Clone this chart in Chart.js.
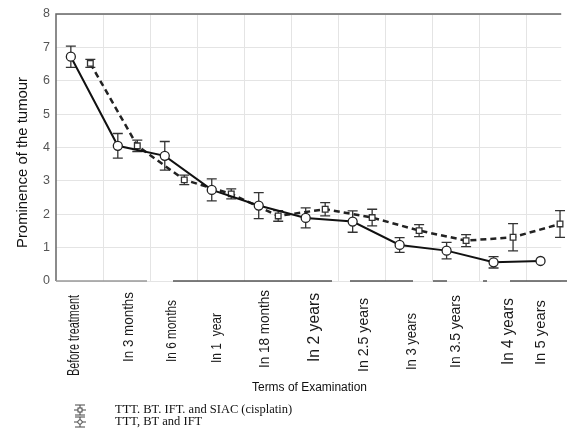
<!DOCTYPE html>
<html>
<head>
<meta charset="utf-8">
<script src="https://cdn.jsdelivr.net/npm/chart.js@4"></script>
<style>
  html, body { margin: 0; padding: 0; background: #fff; }
  #wrap { width: 567px; height: 429px; position: relative; }
</style>
</head>
<body>
<div id="wrap"><canvas id="tumourChart"></canvas></div>
<script>
// Terminos de examen (eje X)
const terms = ['Before treatment', 'In 3 months', 'In 6 months', 'In 1  year', 'In 18 months',
  'In 2 years', 'In 2.5 years', 'In 3 years', 'In 3.5 years', 'In 4 years', 'In 5 years'];

// TTT, BT, IFT and SIAC (cisplatin) - linea punteada, cuadrados
const siacMean = [6.52, 4.05, 3.03, 2.61, 1.95, 2.15, 1.9, 1.51, 1.21, 1.31, 1.71];
const siacErr  = [0.12, 0.17, 0.14, 0.15, 0.16, 0.2, 0.25, 0.18, 0.18, 0.41, 0.4];

// TTT, BT and IFT - linea continua, circulos
const baseMean = [6.72, 4.05, 3.75, 2.73, 2.26, 1.89, 1.78, 1.08, 0.91, 0.56, 0.6];
const baseErr  = [0.32, 0.37, 0.43, 0.33, 0.39, 0.3, 0.32, 0.22, 0.25, 0.17, 0];

const yTicks = [0, 1, 2, 3, 4, 5, 6, 7, 8];
const yTitle = 'Prominence of the tumour';
const xTitle = 'Terms of Examination';
const legendNames = ['TTT. BT. IFT. and SIAC (cisplatin)', 'TTT, BT and IFT'];

// solo estilo: corrimiento del cuadrado y como se ve cada etiqueta
const siacShift = 0.415;
const labelPos  = [0.08, 1.24, 2.15, 3.12, 4.13, 5.18, 6.25, 7.26, 8.21, 9.31, 10.0];
const labelBase = [376, 362, 362, 363, 368, 362, 372, 370, 368, 365, 365];
const labelLen  = [81, 70, 62, 50, 78, 69, 74, 57, 73, 67, 65];
const labelSize = [16, 15, 14.5, 14.5, 14.5, 16.5, 14.5, 14.5, 14.5, 16, 15.5];

const baseData = baseMean.map((v, i) => ({x: i, y: v, e: baseErr[i]}));
const siacData = siacMean.map((v, i) => ({x: i + siacShift, y: v, e: siacErr[i]}));

const SANS = '"Liberation Sans", Arial, sans-serif';

// texto que ocupa un largo dado (las etiquetas del original son angostas)
function fitText(ctx, text, x, y, len, rot) {
    const w = ctx.measureText(text).width;
    ctx.save();
    ctx.translate(x, y);
    if (rot) ctx.rotate(-Math.PI / 2);
    ctx.scale(len / w, 1);
    ctx.fillText(text, 0, 0);
    ctx.restore();
}

// barras de error, se dibujan antes de las lineas
const errorBars = {
    id: 'errorBars',
    beforeDatasetsDraw(chart) {
        const ctx = chart.ctx;
        const ys = chart.scales.y;
        ctx.save();
        ctx.strokeStyle = '#333';
        ctx.lineWidth = 1.3;
        chart.data.datasets.forEach((ds, di) => {
            const meta = chart.getDatasetMeta(di);
            ds.data.forEach((p, i) => {
                if (!p.e) return;
                const x = meta.data[i].x;
                const top = ys.getPixelForValue(p.y + p.e);
                const bot = ys.getPixelForValue(p.y - p.e);
                ctx.beginPath();
                ctx.moveTo(x, top); ctx.lineTo(x, bot);
                ctx.moveTo(x - 5, top); ctx.lineTo(x + 5, top);
                ctx.moveTo(x - 5, bot); ctx.lineTo(x + 5, bot);
                ctx.stroke();
            });
        });
        ctx.restore();
    }
};

// bordes, etiquetas rotadas, titulos y leyenda
const extras = {
    id: 'extras',
    afterDraw(chart) {
        const ctx = chart.ctx;
        const a = chart.chartArea;
        const xs = chart.scales.x;
        ctx.save();
        ctx.strokeStyle = '#666';
        ctx.lineWidth = 1.5;
        ctx.beginPath();
        ctx.moveTo(a.left, a.bottom); ctx.lineTo(a.left, a.top); ctx.lineTo(a.right, a.top);
        ctx.stroke();
        // eje inferior cortado como en la imagen
        [[56, 83], [83, 147], [173, 332], [350, 413], [433, 447], [483, 487], [510, 567]].forEach((s, k) => {
            ctx.strokeStyle = k < 2 ? '#999' : '#555';
            ctx.beginPath();
            ctx.moveTo(s[0], a.bottom); ctx.lineTo(s[1], a.bottom);
            ctx.stroke();
        });

        ctx.fillStyle = '#1a1a1a';
        ctx.textAlign = 'left';
        ctx.textBaseline = 'middle';
        terms.forEach((t, i) => {
            ctx.font = labelSize[i] + 'px ' + SANS;
            fitText(ctx, t, xs.getPixelForValue(labelPos[i]), labelBase[i], labelLen[i], true);
        });

        // titulo del eje Y
        ctx.fillStyle = '#111';
        ctx.font = '14px ' + SANS;
        fitText(ctx, yTitle, 23, 248, 171, true);

        // titulo del eje X
        ctx.font = '12px ' + SANS;
        fitText(ctx, xTitle, 252, 388, 115, false);

        // leyenda
        ctx.font = '12.5px "Liberation Serif", "Times New Roman", serif';
        legendNames.forEach((n, k) => {
            const y = 410 + k * 12;
            ctx.fillStyle = '#111';
            ctx.fillText(n, 115, y);
            ctx.strokeStyle = '#444';
            ctx.lineWidth = 1;
            ctx.beginPath();
            ctx.moveTo(80, y - 5); ctx.lineTo(80, y + 5);
            ctx.moveTo(75, y - 5); ctx.lineTo(85, y - 5);
            ctx.moveTo(75, y + 5); ctx.lineTo(85, y + 5);
            ctx.moveTo(74, y); ctx.lineTo(86, y);
            ctx.stroke();
            ctx.fillStyle = '#fff';
            if (k === 0) { ctx.fillRect(78, y - 2, 4, 4); ctx.strokeRect(78, y - 2, 4, 4); }
            else { ctx.beginPath(); ctx.arc(80, y, 2.2, 0, Math.PI * 2); ctx.fill(); ctx.stroke(); }
        });
        ctx.restore();
    }
};

const tumourConfig = {
    type: 'scatter',
    data: {
        datasets: [
            {
                label: legendNames[1],
                data: baseData,
                showLine: true,
                borderColor: '#111',
                borderWidth: 2,
                pointStyle: 'circle',
                pointRadius: 4.5,
                pointBorderWidth: 1.3,
                pointBackgroundColor: '#fff',
                pointBorderColor: '#222',
                order: 0
            },
            {
                label: legendNames[0],
                data: siacData,
                showLine: true,
                borderColor: '#222',
                borderWidth: 2.5,
                borderDash: [6, 4],
                pointStyle: 'rect',
                pointRadius: 4,
                pointBorderWidth: 1.3,
                pointBackgroundColor: '#fff',
                pointBorderColor: '#333',
                order: 1
            }
        ]
    },
    options: {
        responsive: true,
        maintainAspectRatio: false,
        animation: false,
        clip: false,
        layout: { padding: { top: 14, right: 0, bottom: 148, left: 0 } },
        plugins: { legend: { display: false }, tooltip: { enabled: false } },
        scales: {
            x: {
                type: 'linear',
                min: -0.316,
                max: 10.44,
                border: { display: false },
                grid: { color: '#e4e4e4', lineWidth: 1, drawTicks: false },
                ticks: { display: false },
                afterBuildTicks(scale) {
                    scale.ticks = [];
                    for (let k = 0; k < 10; k++) scale.ticks.push({ value: 0.695 + k });
                },
                afterFit(scale) { scale.height = 0; }
            },
            y: {
                min: 0,
                max: 8,
                border: { display: false },
                grid: { color: '#e4e4e4', lineWidth: 1, drawTicks: false },
                afterBuildTicks(scale) { scale.ticks = yTicks.map(v => ({ value: v })); },
                ticks: {
                    color: '#555',
                    padding: 6,
                    font: { size: 12.5, family: SANS }
                },
                afterFit(scale) { scale.width = 56; }
            }
        }
    },
    plugins: [errorBars, extras]
};

const tumourChart = new Chart(document.getElementById('tumourChart'), tumourConfig);
</script>
</body>
</html>
